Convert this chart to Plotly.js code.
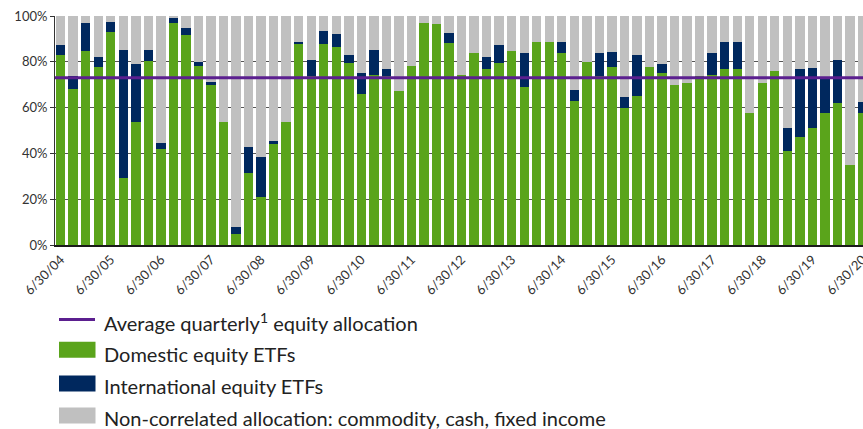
<!DOCTYPE html>
<html>
<head>
<meta charset="utf-8">
<script src="https://cdn.plot.ly/plotly-3.0.1.min.js"></script>
<style>
  html, body { margin: 0; padding: 0; background: #fff; overflow: hidden; }
  #chart { width: 880px; height: 429px; }
</style>
</head>
<body>
<div id="chart"></div>
<script>
// Quarter-end dates (categories)
const quarters = [
  "6/30/04","9/30/04","12/31/04","3/31/05",
  "6/30/05","9/30/05","12/31/05","3/31/06",
  "6/30/06","9/30/06","12/31/06","3/31/07",
  "6/30/07","9/30/07","12/31/07","3/31/08",
  "6/30/08","9/30/08","12/31/08","3/31/09",
  "6/30/09","9/30/09","12/31/09","3/31/10",
  "6/30/10","9/30/10","12/31/10","3/31/11",
  "6/30/11","9/30/11","12/31/11","3/31/12",
  "6/30/12","9/30/12","12/31/12","3/31/13",
  "6/30/13","9/30/13","12/31/13","3/31/14",
  "6/30/14","9/30/14","12/31/14","3/31/15",
  "6/30/15","9/30/15","12/31/15","3/31/16",
  "6/30/16","9/30/16","12/31/16","3/31/17",
  "6/30/17","9/30/17","12/31/17","3/31/18",
  "6/30/18","9/30/18","12/31/18","3/31/19",
  "6/30/19","9/30/19","12/31/19","3/31/20",
  "6/30/20"
];

// Tick labels shown on the x axis
const tickLabels = [
  "6/30/04","6/30/05","6/30/06","6/30/07","6/30/08","6/30/09",
  "6/30/10","6/30/11","6/30/12","6/30/13","6/30/14","6/30/15",
  "6/30/16","6/30/17","6/30/18","6/30/19","6/30/20"
];

// Domestic equity ETFs (%)
const domestic = [
  83.0, 68.1, 84.7, 77.9, 92.9, 29.1, 53.6, 80.2, 41.8, 96.8,
  91.8, 78.3, 69.9, 53.9,  4.7, 31.4, 21.1, 44.0, 53.7, 87.6,
  73.8, 87.8, 86.3, 79.5, 65.8, 74.1, 73.8, 67.2, 78.2, 97.1,
  96.5, 88.2, 74.1, 83.8, 76.9, 79.5, 84.7, 69.0, 88.6, 88.6,
  84.0, 63.0, 79.9, 73.9, 77.6, 60.0, 65.1, 77.7, 75.1, 69.9,
  70.7, 73.7, 74.1, 76.9, 76.9, 57.8, 70.7, 76.0, 41.0, 47.2,
  51.1, 57.5, 62.0, 34.9, 57.5
];

// International equity ETFs (%)
const international = [
   4.5,  5.6, 12.2,  4.2,  4.5, 56.1, 25.3,  4.8,  2.7,  2.5,
   3.0,  1.6,  1.3,  0.0,  3.3, 11.4, 17.3,  1.4,  0.0,  0.9,
   7.0,  5.6,  6.0,  3.5,  9.3, 11.2,  3.2,  0.0,  0.0,  0.0,
   0.0,  4.5,  0.0,  0.0,  5.2,  8.0,  0.0, 15.0,  0.0,  0.0,
   4.8,  4.8,  0.0,  9.9,  6.7,  4.8, 17.9,  0.0,  3.8,  0.0,
   0.0,  0.0,  9.7, 11.9, 11.9,  0.0,  0.0,  0.0,  9.9, 29.7,
  26.2, 15.0, 18.8,  0.0,  4.9
];

// Non-correlated allocation: commodity, cash, fixed income (%)
const nonCorrelated = [
  12.5, 26.3,  3.1, 17.9,  2.6, 14.8, 21.1, 15.0, 55.5,  0.7,
   5.2, 20.1, 28.8, 46.1, 92.0, 57.2, 61.6, 54.6, 46.3, 11.5,
  19.2,  6.6,  7.7, 17.0, 24.9, 14.7, 23.0, 32.8, 21.8,  2.9,
   3.5,  7.3, 25.9, 16.2, 17.9, 12.5, 15.3, 16.0, 11.4, 11.4,
  11.2, 32.2, 20.1, 16.2, 15.7, 35.2, 17.0, 22.3, 21.1, 30.1,
  29.3, 26.3, 16.2, 11.2, 11.2, 42.2, 29.3, 24.0, 49.1, 23.1,
  22.7, 27.5, 19.2, 65.1, 37.6
];

// Average quarterly equity allocation (%)
const averageEquity = 73;

const seriesNames = [
  "Average quarterly<sup>1</sup> equity allocation",
  "Domestic equity ETFs",
  "International equity ETFs",
  "Non-correlated allocation: commodity, cash, fixed income"
];

const COLORS = {
  avg: "#5b1f8f",
  dom: "#5aa41b",
  intl: "#00285e",
  non: "#c0c0c0"
};

const FONT = "Lato, 'Open Sans', sans-serif";
const TXT = "#333333";

const traces = [
  { type: "bar", name: seriesNames[1], x: quarters, y: domestic,
    marker: { color: COLORS.dom }, showlegend: false },
  { type: "bar", name: seriesNames[2], x: quarters, y: international,
    marker: { color: COLORS.intl }, showlegend: false },
  { type: "bar", name: seriesNames[3], x: quarters, y: nonCorrelated,
    marker: { color: COLORS.non }, showlegend: false }
];

// Legend (drawn manually to match the reference look)
const L = 55, T = 16, B = 245, PW = 815, PH = B - T;
const px2x = p => (p - L) / PW;
const py2y = p => (B - p) / PH;

const legendRows = [
  { kind: "line", color: COLORS.avg, cy: 319.5, ty: 321.5, text: seriesNames[0] },
  { kind: "rect", color: COLORS.dom, cy: 349.7, ty: 353.5, text: seriesNames[1] },
  { kind: "rect", color: COLORS.intl, cy: 383.5, ty: 385.5, text: seriesNames[2] },
  { kind: "rect", color: COLORS.non, cy: 415.5, ty: 417.5, text: seriesNames[3] }
];

const shapes = [
  { type: "line", xref: "paper", yref: "y", x0: 0, x1: 1,
    y0: averageEquity, y1: averageEquity,
    line: { color: COLORS.avg, width: 3 }, layer: "above" }
];
const annotations = [];
legendRows.forEach(r => {
  if (r.kind === "line") {
    shapes.push({ type: "line", xref: "paper", yref: "paper",
      x0: px2x(59), x1: px2x(95), y0: py2y(r.cy), y1: py2y(r.cy),
      line: { color: r.color, width: 3 } });
  } else {
    shapes.push({ type: "rect", xref: "paper", yref: "paper",
      x0: px2x(59), x1: px2x(95.5), y0: py2y(r.cy + 8), y1: py2y(r.cy - 8),
      fillcolor: r.color, line: { width: 0 } });
  }
  annotations.push({ xref: "paper", yref: "paper", x: px2x(102), y: py2y(r.ty),
    xanchor: "left", yanchor: "middle", showarrow: false, text: r.text,
    font: { family: FONT, size: 20, color: "#222" } });
});

const tickVals = quarters.filter((q, i) => i % 4 === 0);

const layout = {
  width: 880, height: 429,
  margin: { l: L, r: 880 - L - PW, t: T, b: 429 - B },
  paper_bgcolor: "#fff", plot_bgcolor: "#fff",
  barmode: "stack", bargap: 0.25,
  font: { family: FONT, size: 13, color: TXT },
  xaxis: {
    type: "category", range: [-0.45, 64.6],
    tickmode: "array", tickvals: tickVals, ticktext: tickLabels,
    tickangle: -45, ticks: "", showgrid: false,
    showline: true, linecolor: "#1a1a1a", linewidth: 2,
    tickfont: { family: FONT, size: 13, color: TXT }
  },
  yaxis: {
    range: [0, 100], tickvals: [0, 20, 40, 60, 80, 100],
    ticktext: ["0%", "20%", "40%", "60%", "80%", "100%"],
    showgrid: true, gridcolor: "#555", gridwidth: 1,
    zeroline: false, showline: true, linecolor: "#333", linewidth: 1,
    ticks: "outside", ticklen: 4, tickcolor: "#333",
    tickfont: { family: FONT, size: 13, color: TXT }
  },
  shapes: shapes,
  annotations: annotations,
  showlegend: false
};

Plotly.newPlot("chart", traces, layout, { displayModeBar: false, staticPlot: true });
</script>
</body>
</html>
